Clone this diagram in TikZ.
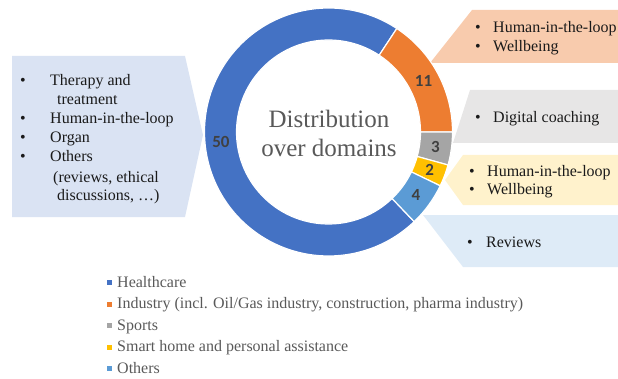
\documentclass[tikz,border=0pt]{standalone}
\usepackage{fontspec}
\setmainfont{Liberation Serif}
\newfontfamily\numfont{Carlito}
\definecolor{hc}{HTML}{4472C4}
\definecolor{ind}{HTML}{ED7D31}
\definecolor{spo}{HTML}{A5A5A5}
\definecolor{smh}{HTML}{FFC000}
\definecolor{oth}{HTML}{5B9BD5}
\definecolor{cLeft}{HTML}{DAE3F3}
\definecolor{cOrange}{HTML}{F8CBAD}
\definecolor{cGray}{HTML}{E7E6E6}
\definecolor{cYellow}{HTML}{FFF2CC}
\definecolor{cBlue}{HTML}{DEEBF7}
\definecolor{textc}{HTML}{1A1A1A}
\definecolor{numc}{HTML}{404040}
\definecolor{legc}{HTML}{595959}
\newcommand\ringseg[3]{\fill[#1,draw=white,line width=1.2pt] (#2:124) arc[start angle=#2,end angle=#3,radius=124] -- (#3:92) arc[start angle=#3,end angle=#2,radius=92] -- cycle;}
\begin{document}
\begin{tikzpicture}[x=1pt,y=1pt,
  every node/.style={inner sep=0pt},
  txt/.style={anchor=base west, font=\fontsize{16}{19}\selectfont, text=textc},
  bul/.style={anchor=base, font=\fontsize{16}{19}\selectfont, text=textc},
  lbl/.style={font=\numfont\bfseries\fontsize{17}{20}\selectfont, text=numc},
  leg/.style={anchor=base west, font=\fontsize{16}{19}\selectfont, text=legc},
  legsq/.style={minimum size=5pt, inner sep=0pt}]
\useasboundingbox (0,0) rectangle (618,378);
% callout shapes
\fill[cLeft] (12,322) -- (185,322) -- (203,243) -- (185,161) -- (12,161) -- cycle;
\fill[cOrange] (472,368) -- (618,368) -- (618,315) -- (430,315) -- cycle;
\fill[cGray] (470,288) -- (618,288) -- (618,235) -- (453,235) -- cycle;
\fill[cYellow] (463,223) -- (618,223) -- (618,173) -- (463,173) -- (445,198) -- cycle;
\fill[cBlue] (423,163) -- (618,163) -- (618,111) -- (463,111) -- cycle;
% donut
\begin{scope}[shift={(328.5,246)}]
\ringseg{hc}{56.571}{313.714}
\ringseg{ind}{0}{56.571}
\ringseg{spo}{-15.429}{0}
\ringseg{smh}{-25.714}{-15.429}
\ringseg{oth}{-46.286}{-25.714}
\node[lbl] (n50) at (185.143:108) {50};
\node[lbl] (n11) at (28.286:108) {11};
\node[lbl] (n3) at (-7.714:108) {3};
\node[lbl] (n2) at (-20.571:108) {2};
\node[lbl] (n4) at (-36:108) {4};
\end{scope}
% title
\node[anchor=base, font=\fontsize{25}{28}\selectfont, text=legc] (t1) at (329,250) {Distribution};
\node[anchor=base, font=\fontsize{25}{28}\selectfont, text=legc] (t2) at (329,221) {over domains};
% left callout text
\node[bul] (lb1) at (23,292) {\textbullet};
\node[txt] (l1) at (50,292) {Therapy and};
\node[txt] (l2) at (57,273) {treatment};
\node[bul] (lb2) at (23,254) {\textbullet};
\node[txt] (l3) at (50,254) {Human-in-the-loop};
\node[bul] (lb3) at (23,235) {\textbullet};
\node[txt] (l4) at (50,235) {Organ};
\node[bul] (lb4) at (23,216) {\textbullet};
\node[txt] (l5) at (50,216) {Others};
\node[txt] (l6) at (53,196) {(reviews, ethical};
\node[txt] (l7) at (57,178) {discussions, …)};
% orange callout text
\node[bul] (ob1) at (478,345) {\textbullet};
\node[txt] (o1) at (493,345) {Human-in-the-loop};
\node[bul] (ob2) at (478,326) {\textbullet};
\node[txt] (o2) at (493,326) {Wellbeing};
% gray callout text
\node[bul] (gb1) at (478,255) {\textbullet};
\node[txt] (g1) at (493,255) {Digital coaching};
% yellow callout text
\node[bul] (yb1) at (472,201) {\textbullet};
\node[txt] (y1) at (487,201) {Human-in-the-loop};
\node[bul] (yb2) at (472,183) {\textbullet};
\node[txt] (y2) at (487,183) {Wellbeing};
% blue callout text
\node[bul] (bb1) at (470,131) {\textbullet};
\node[txt] (b1) at (486,131) {Reviews};
% legend
\node[legsq, fill=hc] (s1) at (109,95.5) {};
\node[leg] (e1) at (117,91) {Healthcare};
\node[legsq, fill=ind] (s2) at (109,74) {};
\node[leg] (e2) at (117,69.5) {Industry (incl. Oil/Gas industry, construction, pharma industry)};
\node[legsq, fill=spo] (s3) at (109,52.5) {};
\node[leg] (e3) at (117,48) {Sports};
\node[legsq, fill=smh] (s4) at (109,31) {};
\node[leg] (e4) at (117,26.5) {Smart home and personal assistance};
\node[legsq, fill=oth] (s5) at (109,9.5) {};
\node[leg] (e5) at (117,5) {Others};
\end{tikzpicture}
\end{document}
